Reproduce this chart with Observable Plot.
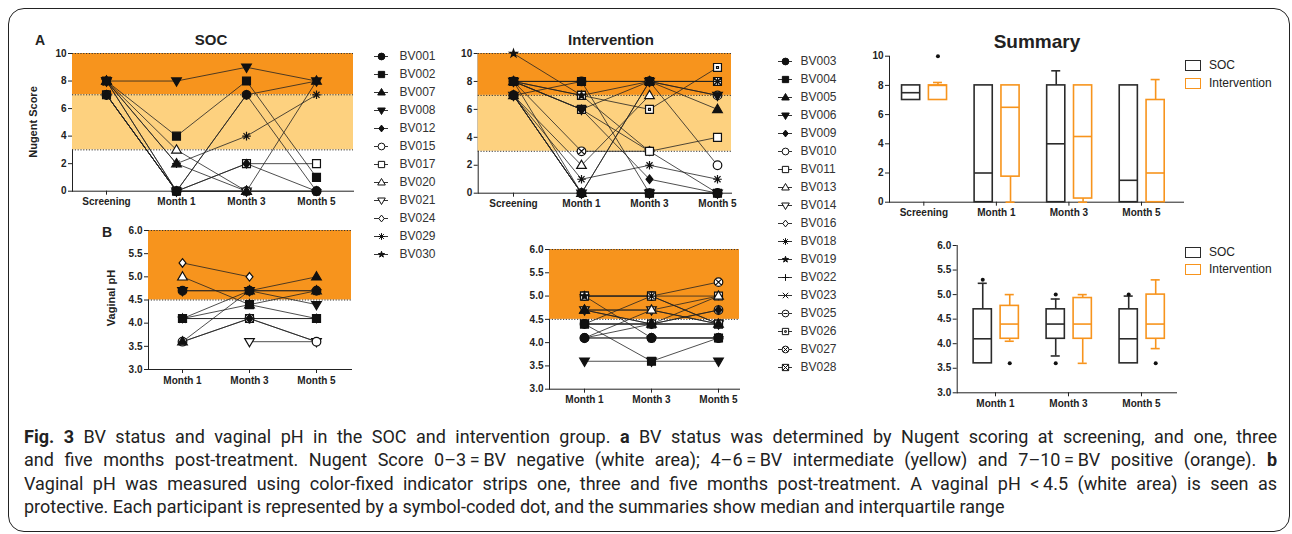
<!DOCTYPE html>
<html><head><meta charset="utf-8">
<script src="https://cdn.jsdelivr.net/npm/d3@7"></script>
<script src="https://cdn.jsdelivr.net/npm/@observablehq/plot@0.6"></script>
<style>
body{margin:0;background:#fff;}
#fig{position:relative;width:1292px;height:534px;overflow:hidden;font-family:"Liberation Sans",Arial,sans-serif;color:#222;}
.abs{position:absolute;}
.abs svg{max-width:none !important;display:block;}
.border{position:absolute;left:8px;top:8px;width:1282px;height:524px;border:1.5px solid #222;border-radius:16px;box-sizing:border-box;}
.ttl{position:absolute;font-weight:bold;transform:translate(-50%,-50%);white-space:nowrap;}
.ylab{position:absolute;font-weight:bold;font-size:11px;transform:translate(-50%,-50%) rotate(-90deg);white-space:nowrap;}
.lg{position:absolute;font-size:12px;white-space:nowrap;}
.lg span{display:inline-block;width:14px;height:9px;border:1.6px solid;vertical-align:middle;margin-right:8px;}
.cap{position:absolute;left:24px;top:425px;width:1253px;font-family:Roboto,"Open Sans",sans-serif;font-size:18px;color:#222;}
.cap div{height:23.3px;line-height:23.3px;text-align:justify;text-align-last:justify;}
.cap div.last{text-align:left;text-align-last:left;}
</style></head>
<body><div id="fig"></div>
<script>
// ---------- data ----------
const nugentTimes = ["Screening", "Month 1", "Month 3", "Month 5"];
const phTimes = ["Month 1", "Month 3", "Month 5"];

const socIds = ["BV001","BV002","BV007","BV008","BV012","BV015","BV017","BV020","BV021","BV024","BV029","BV030"];
const socShapes = ["circle","square","triangle","triangleDown","diamond","circle","square","triangle","triangleDown","diamond","asterisk","star"];
const socFills = ["filled","filled","filled","filled","filled","open","open","open","open","open","none","filled"];
// Nugent score: Screening, Month 1, Month 3, Month 5
const socNugent = [
  [7,0,7,0],[8,4,8,1],[8,2,0,8],[8,8,9,8],[7,0,2,0],[7,0,0,0],
  [7,0,2,2],[8,3,0,null],[8,0,0,null],[7,0,7,8],[8,2,4,7],[8,0,0,0]
];
// Vaginal pH: Month 1, Month 3, Month 5
const socPH = [
  [4.7,4.7,4.7],[4.1,4.4,4.1],[3.6,4.7,5.0],[4.7,4.7,4.4],[4.1,4.1,4.1],[3.6,4.1,3.6],
  [4.1,4.1,4.1],[5.0,4.4,4.7],[null,3.6,3.6],[5.3,5.0,null],[3.6,4.1,3.6],[4.1,4.7,4.7]
];

const intIds = ["BV003","BV004","BV005","BV006","BV009","BV010","BV011","BV013","BV014","BV016","BV018","BV019","BV022","BV023","BV025","BV026","BV027","BV028"];
const intShapes = ["circle","square","triangle","triangleDown","diamond","circle","square","triangle","triangleDown","diamond","asterisk","star","plus","times","circleMinus","squareDot","circleTimes","squareTimes"];
const intFills = ["filled","filled","filled","filled","filled","open","open","open","open","open","none","filled","none","none","open","open","open","open"];
const intNugent = [
  [7,0,0,0],[8,8,0,0],[8,0,8,6],[8,6,8,7],[8,6,1,0],[7,0,8,2],
  [8,6,3,4],[7,2,7,null],[7,0,0,0],[7,0,0,0],[7,1,2,1],[10,7,3,null],
  [8,8,8,8],[8,8,8,8],[7,8,8,7],[8,7,6,9],[8,3,3,0],[8,7,8,8]
];
const intPH = [
  [4.1,4.1,4.1],[4.4,3.6,4.1],[4.7,4.4,4.4],[3.6,3.6,3.6],[4.1,4.4,4.7],[4.1,4.1,4.1],
  [4.4,4.4,4.4],[4.7,4.7,5.0],[4.7,4.7,4.4],[4.1,4.7,4.4],[4.4,5.0,4.4],[5.0,4.1,4.1],
  [4.4,4.4,5.0],[4.7,4.4,4.4],[4.4,4.4,4.7],[5.0,5.0,5.0],[5.0,5.0,5.3],[5.0,5.0,4.4]
];

// zones
const nugentBands = [{lo:7, hi:10, fill:"#F7941D"}, {lo:3, hi:7, fill:"#FDD17F"}];
const nugentCuts = [3, 7, 10];
const phBands = [{lo:4.5, hi:6.0, fill:"#F7941D"}];
const phCuts = [4.5, 6.0];

// summary box stats: [Q1, median, Q3, whisker low, whisker high]
const summaryNugentSOC = [[7,7.5,8,7,8],[0,2,8,0,8],[0,4,8,0,9],[0,1.5,8,0,8]];
const summaryNugentINT = [[7,8,8,7,8.2],[1.75,6.5,8,0,8],[0.25,4.5,8,0,8],[0,2,7,0,8.4]];
const outliersNugentSOC = [[],[],[],[]];
const outliersNugentINT = [[10],[],[],[]];
const summaryPhSOC = [[3.6,4.1,4.7,3.6,5.23],[4.1,4.4,4.7,3.75,4.91],[3.6,4.1,4.7,3.6,4.97]];
const summaryPhINT = [[4.1,4.4,4.77,4.05,5.0],[4.1,4.4,4.93,3.6,5.0],[4.1,4.4,5.0,3.9,5.3]];
const outliersPhSOC = [[5.3],[3.6,5.0],[5.0]];
const outliersPhINT = [[3.6],[],[3.6]];

const groupNames = ["SOC", "Intervention"];
const groupColors = ["#2b2b2b", "#F7941D"];

// ---------- symbols ----------
const R = s => Math.sqrt(s / Math.PI);
function circ(c, r){ c.moveTo(r,0); c.arc(0,0,r,0,2*Math.PI); c.closePath(); }
const SYM = {
  circle:{draw(c,s){circ(c,R(s));}},
  square:{draw(c,s){const r=R(s)*0.92; c.rect(-r,-r,2*r,2*r);}},
  triangle:{draw(c,s){const r=R(s)*1.18; c.moveTo(0,-r); c.lineTo(r*0.95,r*0.62); c.lineTo(-r*0.95,r*0.62); c.closePath();}},
  triangleDown:{draw(c,s){const r=R(s)*1.18; c.moveTo(0,r); c.lineTo(r*0.95,-r*0.62); c.lineTo(-r*0.95,-r*0.62); c.closePath();}},
  diamond:{draw(c,s){const r=R(s); c.moveTo(0,-r); c.lineTo(r*0.8,0); c.lineTo(0,r); c.lineTo(-r*0.8,0); c.closePath();}},
  asterisk:{draw(c,s){const r=R(s), a=r*0.7071; c.moveTo(-r,0);c.lineTo(r,0);c.moveTo(0,-r);c.lineTo(0,r);c.moveTo(-a,-a);c.lineTo(a,a);c.moveTo(-a,a);c.lineTo(a,-a);}},
  star:{draw(c,s){d3.symbolStar.draw(c, s*0.32);}},
  plus:{draw(c,s){const r=R(s); c.moveTo(-r,0);c.lineTo(r,0);c.moveTo(0,-r);c.lineTo(0,r);}},
  times:{draw(c,s){const r=R(s)*0.8; c.moveTo(-r,-r);c.lineTo(r,r);c.moveTo(-r,r);c.lineTo(r,-r);}},
  circleMinus:{draw(c,s){const r=R(s); circ(c,r); c.moveTo(-r*0.6,0); c.lineTo(r*0.6,0);}},
  squareDot:{draw(c,s){const r=R(s)*0.92, q=r*0.25; c.rect(-r,-r,2*r,2*r); c.rect(-q,-q,2*q,2*q);}},
  circleTimes:{draw(c,s){const r=R(s), a=r*0.7; circ(c,r); c.moveTo(-a,-a);c.lineTo(a,a);c.moveTo(-a,a);c.lineTo(a,-a);}},
  squareTimes:{draw(c,s){const r=R(s)*0.92; c.rect(-r,-r,2*r,2*r); c.moveTo(-r,-r);c.lineTo(r,r);c.moveTo(-r,r);c.lineTo(r,-r);}}
};
const FILL = {filled:"#111", open:"#fff", none:"none"};

// ---------- helpers ----------
const baseStyle = {fontFamily:"'Liberation Sans', Arial, sans-serif", fontSize:"10px", fontWeight:"bold", color:"#222", background:"transparent", overflow:"visible"};
const fig = document.getElementById("fig");
function place(node, left, top){
  const d = document.createElement("div");
  d.className = "abs"; d.style.left = left+"px"; d.style.top = top+"px";
  d.appendChild(node); fig.appendChild(d);
}
function flatten(ids, times, values, fills){
  const out = [];
  ids.forEach((id,i) => times.forEach((t,j) => {
    const v = values[i][j];
    out.push({id, time:t, value: v == null ? NaN : v, fill: FILL[fills[i]]});
  }));
  return out;
}

function participantPanel({ids, shapes, fills, values, times, yDomain, yTicks, yFormat, bands, cuts, width, height, margins, xRange}){
  const data = flatten(ids, times, values, fills);
  // first-listed participants are drawn on top, as in the original
  const dots = data.filter(d => !isNaN(d.value)).reverse();
  return Plot.plot({
    width, height,
    marginLeft: margins[0], marginRight: margins[1], marginTop: margins[2], marginBottom: margins[3],
    style: baseStyle,
    x: {type:"point", domain: times, range: xRange, padding:0, label:null, tickSize:4, tickPadding:3, line:true},
    y: {domain: yDomain, ticks: yTicks, tickFormat: yFormat, label:null, tickSize:4, tickPadding:2, line:true},
    symbol: {domain: ids, range: shapes.map(s => SYM[s])},
    color: {type:"identity"},
    marks: [
      Plot.rect(bands, {y1:"lo", y2:"hi", fill:"fill"}),
      Plot.ruleY(cuts, {stroke:"#333", strokeWidth:1, strokeDasharray:"1.2,1.6"}),
      Plot.line(data, {x:"time", y:"value", z:"id", stroke:"#222", strokeWidth:0.8}),
      Plot.dot(dots, {x:"time", y:"value", symbol:"id", fill:"fill", stroke:"#111", strokeWidth:1.2, r:4.3})
    ]
  });
}

function legendPanel({ids, shapes, fills, height, rowRange, marginLeft, textDx}){
  const rows = ids.map((id,i) => ({id, fill: FILL[fills[i]]}));
  return Plot.plot({
    width:110, height, marginLeft, marginRight:110-marginLeft-14, marginTop:0, marginBottom:0,
    style: baseStyle,
    y: {type:"point", domain: ids, range: rowRange, padding:0, axis:null},
    symbol: {domain: ids, range: shapes.map(s => SYM[s])},
    color: {type:"identity"},
    marks: [
      Plot.tickY(rows, {y:"id", stroke:"#333", strokeWidth:1}),
      Plot.dot(rows, {y:"id", symbol:"id", fill:"fill", stroke:"#111", strokeWidth:1, r:3.4}),
      Plot.text(rows, {y:"id", text:"id", frameAnchor:"right", textAnchor:"start", dx:textDx, fontSize:12, fontWeight:"normal", fill:"#333"})
    ]
  });
}

function summaryPanel({groups, soc, int, socOut, intOut, yDomain, yTicks, yFormat, xDomain, width, height, margins}){
  const boxes = [], outs = [];
  const offs = [[-0.30,-0.05],[0.07,0.32]];
  [soc, int].forEach((stats, g) => stats.forEach((s, i) => {
    const x1 = i + offs[g][0], x2 = i + offs[g][1], xc = (x1 + x2) / 2;
    boxes.push({x1, x2, xc, c1: xc - 0.062, c2: xc + 0.062, q1:s[0], med:s[1], q3:s[2], lo:s[3], hi:s[4], color: groupColors[g]});
  }));
  [socOut, intOut].forEach((o, g) => o.forEach((vals, i) => vals.forEach(v => {
    outs.push({x: i + (offs[g][0] + offs[g][1]) / 2, v});
  })));
  const lower = boxes.filter(b => b.lo < b.q1), upper = boxes.filter(b => b.hi > b.q3);
  return Plot.plot({
    width, height,
    marginLeft: margins[0], marginRight: margins[1], marginTop: margins[2], marginBottom: margins[3],
    style: baseStyle,
    x: {domain: xDomain, ticks: groups.map((g,i) => i), tickFormat: i => groups[i], label:null, tickSize:4, tickPadding:3, line:true},
    y: {domain: yDomain, ticks: yTicks, tickFormat: yFormat, label:null, tickSize:4, tickPadding:2, line:true},
    color: {type:"identity"},
    marks: [
      Plot.ruleX(lower, {x:"xc", y1:"lo", y2:"q1", stroke:"color", strokeWidth:1.6}),
      Plot.ruleY(lower, {x1:"c1", x2:"c2", y:"lo", stroke:"color", strokeWidth:1.6}),
      Plot.ruleX(upper, {x:"xc", y1:"q3", y2:"hi", stroke:"color", strokeWidth:1.6}),
      Plot.ruleY(upper, {x1:"c1", x2:"c2", y:"hi", stroke:"color", strokeWidth:1.6}),
      Plot.rect(boxes, {x1:"x1", x2:"x2", y1:"q1", y2:"q3", fill:"white", stroke:"color", strokeWidth:1.6}),
      Plot.ruleY(boxes, {x1:"x1", x2:"x2", y:"med", stroke:"color", strokeWidth:1.6}),
      Plot.dot(outs, {x:"x", y:"v", r:2, fill:"#111"})
    ]
  });
}

// ---------- panels ----------
const nugTicks = [0,2,4,6,8,10];
const phTicks = [3.0,3.5,4.0,4.5,5.0,5.5,6.0];
const f1 = d3.format(".1f");

place(participantPanel({ids:socIds, shapes:socShapes, fills:socFills, values:socNugent, times:nugentTimes,
  yDomain:[0,10], yTicks:nugTicks, yFormat:d=>d, bands:nugentBands, cuts:nugentCuts,
  width:360, height:175, margins:[72,7,13,24.3], xRange:[106,316.7]}), 0, 40);

place(participantPanel({ids:intIds, shapes:intShapes, fills:intFills, values:intNugent, times:nugentTimes,
  yDomain:[0,10], yTicks:nugTicks, yFormat:d=>d, bands:nugentBands, cuts:nugentCuts,
  width:320, height:175, margins:[37.7,29,13,22.3], xRange:[71.7,277.7]}), 440, 40);

place(participantPanel({ids:socIds, shapes:socShapes, fills:socFills, values:socPH, times:phTimes,
  yDomain:[3,6], yTicks:phTicks, yFormat:f1, bands:phBands, cuts:phCuts,
  width:270, height:170, margins:[58,9,10,21], xRange:[91.7,226.7]}), 90, 220);

place(participantPanel({ids:intIds, shapes:intShapes, fills:intFills, values:intPH, times:phTimes,
  yDomain:[3,6], yTicks:phTicks, yFormat:f1, bands:phBands, cuts:phCuts,
  width:260, height:170, margins:[59,11,9,21.3], xRange:[93,228]}), 490, 240);

place(legendPanel({ids:socIds, shapes:socShapes, fills:socFills, height:230, rowRange:[14,216.7], marginLeft:14, textDx:11}), 360, 40);
place(legendPanel({ids:intIds, shapes:intShapes, fills:intFills, height:345, rowRange:[18,330.8], marginLeft:13, textDx:8}), 765, 40);

place(summaryPanel({groups:nugentTimes, soc:summaryNugentSOC, int:summaryNugentINT, socOut:outliersNugentSOC, intOut:outliersNugentINT,
  yDomain:[0,10], yTicks:nugTicks, yFormat:d=>d, xDomain:[-0.473,3.579], width:340, height:190, margins:[39,7,15.7,28.3]}), 850, 40);

place(summaryPanel({groups:phTimes, soc:summaryPhSOC, int:summaryPhINT, socOut:outliersPhSOC, intOut:outliersPhINT,
  yDomain:[3,6], yTicks:phTicks, yFormat:f1, xDomain:[-0.525,2.48], width:290, height:185, margins:[56.7,14,15,22.7]}), 900, 230);

// ---------- text ----------
function html(s){ fig.insertAdjacentHTML("beforeend", s); }
html('<div class="border"></div>');
html('<div class="ttl" style="left:40px;top:40px;font-size:14px">A</div>');
html('<div class="ttl" style="left:107px;top:232px;font-size:14px">B</div>');
html('<div class="ttl" style="left:211px;top:39px;font-size:15px">SOC</div>');
html('<div class="ttl" style="left:611px;top:39px;font-size:15px">Intervention</div>');
html('<div class="ttl" style="left:1037px;top:42px;font-size:19px">Summary</div>');
html('<div class="ylab" style="left:33px;top:122px">Nugent Score</div>');
html('<div class="ylab" style="left:111px;top:298px">Vaginal pH</div>');
[[66,84],[252.5,270]].forEach(([a,b]) => {
  html(`<div class="lg" style="left:1185px;top:${a-8}px"><span style="border-color:${groupColors[0]}"></span>${groupNames[0]}</div>`);
  html(`<div class="lg" style="left:1185px;top:${b-8}px"><span style="border-color:${groupColors[1]}"></span>${groupNames[1]}</div>`);
});
html(`<div class="cap">
<div><b>Fig. 3</b> BV status and vaginal pH in the SOC and intervention group. <b>a</b> BV status was determined by Nugent scoring at screening, and one, three</div>
<div>and five months post-treatment. Nugent Score 0–3&#8201;=&#8201;BV negative (white area); 4–6&#8201;=&#8201;BV intermediate (yellow) and 7–10&#8201;=&#8201;BV positive (orange). <b>b</b></div>
<div>Vaginal pH was measured using color-fixed indicator strips one, three and five months post-treatment. A vaginal pH &lt;&#8201;4.5 (white area) is seen as</div>
<div class="last">protective. Each participant is represented by a symbol-coded dot, and the summaries show median and interquartile range</div>
</div>`);
</script>
</body></html>
